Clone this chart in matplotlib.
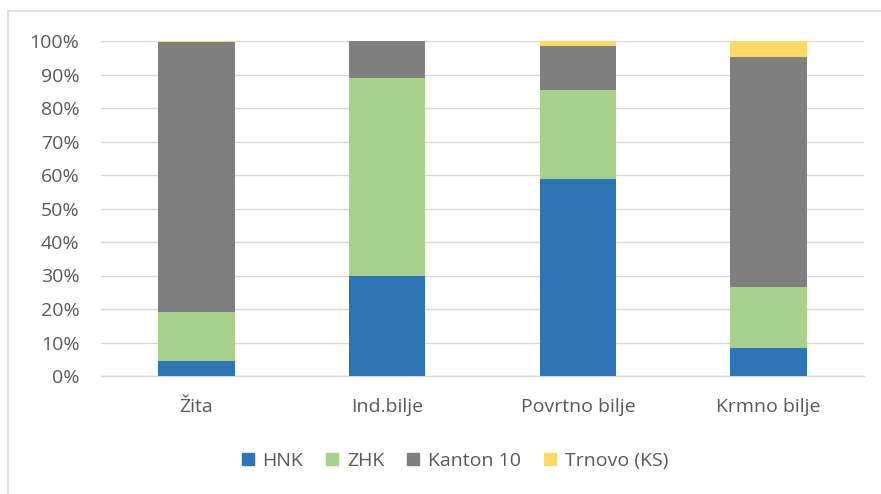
import matplotlib
matplotlib.use("Agg")
import matplotlib.pyplot as plt
from matplotlib.lines import Line2D
import numpy as np

categories = ["Žita", "Ind.bilje", "Povrtno bilje", "Krmno bilje"]
series_names = ["HNK", "ZHK", "Kanton 10", "Trnovo (KS)"]
hnk = [4.4, 29.9, 58.8, 8.3]
zhk = [14.6, 59.1, 26.6, 18.3]
kanton10 = [80.6, 11.0, 13.2, 68.5]
trnovo = [0.4, 0.0, 1.4, 4.9]
colors = ["#2e75b6", "#a9d18e", "#7f7f7f", "#ffd966"]
yticks = [0, 10, 20, 30, 40, 50, 60, 70, 80, 90, 100]

plt.rcParams['font.family'] = ['Open Sans', 'DejaVu Sans']

fig = plt.figure(figsize=(8.81, 4.94), dpi=100)
ax = fig.add_axes([101/881, 1-376/494, (864-101)/881, (376-41)/494])

x = np.arange(len(categories))
bottom = np.zeros(len(categories))
tot = np.array(hnk) + np.array(zhk) + np.array(kanton10) + np.array(trnovo)
for vals, name, c in zip([hnk, zhk, kanton10, trnovo], series_names, colors):
    pct = np.array(vals, dtype=float) / tot * 100
    ax.bar(x, pct, width=0.40, bottom=bottom, color=c, label=name, zorder=3)
    bottom += pct

ax.set_xlim(-0.5, len(categories) - 0.5)
ax.set_ylim(0, 100)
ax.set_yticks(yticks)
ax.set_yticklabels([f"{t}%" for t in yticks])
ax.set_xticks(x)
ax.set_xticklabels(categories)
ax.grid(axis='y', color='#d9d9d9', linewidth=1.0, zorder=0)
for s in ['top', 'right', 'left']:
    ax.spines[s].set_visible(False)
ax.spines['bottom'].set_color('#d9d9d9')
ax.spines['bottom'].set_linewidth(1.0)
ax.tick_params(axis='both', length=0, colors='#595959', labelsize=14)
ax.tick_params(axis='y', pad=15.5)
ax.tick_params(axis='x', pad=16)

handles = [plt.Rectangle((0, 0), 1, 1, color=c) for c in colors]
leg = fig.legend(handles, series_names, loc='center', bbox_to_anchor=(455/881, 1-461/494),
                 ncol=4, frameon=False, fontsize=14, handlelength=0.6, handleheight=0.6,
                 handletextpad=0.45, columnspacing=1.2)
for t in leg.get_texts():
    t.set_color('#595959')

# outer frame lines
fig.add_artist(Line2D([7.5/881, 7.5/881], [0, 1-11.5/494], transform=fig.transFigure,
                      color='#d9d9d9', linewidth=1.2))
fig.add_artist(Line2D([7.5/881, 1], [1-11.5/494, 1-11.5/494], transform=fig.transFigure,
                      color='#d9d9d9', linewidth=1.2))

fig.savefig("out.png", dpi=100)
